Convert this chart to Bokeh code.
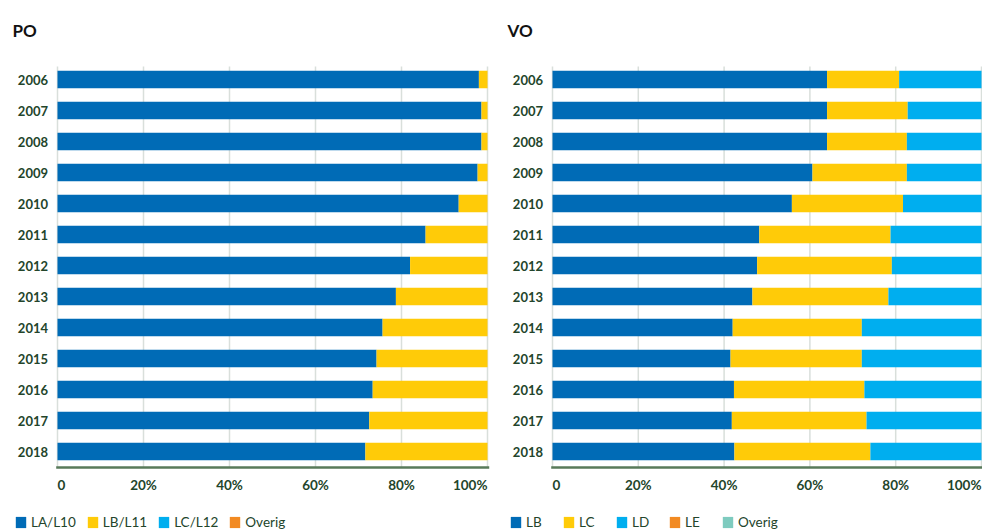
from bokeh.plotting import figure
from bokeh.layouts import row
from bokeh.models import ColumnDataSource, Legend, LegendItem, Range1d
from bokeh.core.properties import value
from bokeh.embed import file_html
from bokeh.resources import INLINE

years = ["2006", "2007", "2008", "2009", "2010", "2011", "2012",
         "2013", "2014", "2015", "2016", "2017", "2018"]

x_ticks = [0, 20, 40, 60, 80, 100]
x_tick_labels = ["0", "20%", "40%", "60%", "80%", "100%"]

# PO (primair onderwijs)
po_names = ["LA/L10", "LB/L11", "LC/L12", "Overig"]
po_la = [98.0, 98.6, 98.6, 97.7, 93.3, 85.6, 82.0, 78.7, 75.6, 74.2, 73.3, 72.5, 71.6]
po_lb = [2.0, 1.4, 1.4, 2.3, 6.7, 14.4, 18.0, 21.3, 24.4, 25.8, 26.7, 27.5, 28.4]
po_lc = [0, 0, 0, 0, 0, 0, 0, 0, 0, 0, 0, 0, 0]
po_overig = [0, 0, 0, 0, 0, 0, 0, 0, 0, 0, 0, 0, 0]

# VO (voortgezet onderwijs)
vo_names = ["LB", "LC", "LD", "LE", "Overig"]
vo_lb = [64.0, 64.0, 64.0, 60.6, 55.8, 48.2, 47.7, 46.6, 42.0, 41.5, 42.3, 41.8, 42.4]
vo_lc = [16.8, 18.8, 18.6, 22.0, 25.9, 30.6, 31.4, 31.7, 30.1, 30.6, 30.4, 31.4, 31.7]
vo_ld = [19.2, 17.2, 17.4, 17.4, 18.3, 21.2, 20.9, 21.7, 27.9, 27.9, 27.3, 26.8, 25.9]
vo_le = [0, 0, 0, 0, 0, 0, 0, 0, 0, 0, 0, 0, 0]
vo_overig = [0, 0, 0, 0, 0, 0, 0, 0, 0, 0, 0, 0, 0]

DARK_BLUE = "#006bb6"
YELLOW = "#ffcb08"
LIGHT_BLUE = "#00aeef"
ORANGE = "#f28a22"
TEAL = "#7ecbbf"
po_colors = [DARK_BLUE, YELLOW, LIGHT_BLUE, ORANGE]
vo_colors = [DARK_BLUE, YELLOW, LIGHT_BLUE, ORANGE, TEAL]

TEXT_GREEN = "#23452b"
AXIS_GREEN = "#587a5a"
GRID = "#d9dfdb"
FONT = "Lato"

HEIGHT = 531
ROW_PX = 31.0          # pixels per year row
FIRST_ROW_PX = 79.0    # centre of first bar from the top


def make_panel(title, names, series, colors, width, left_px, plot_px, spacing):
    ppu = plot_px / 100.0  # pixels per percent
    x_start = -left_px / ppu
    x_end = (width - left_px) / ppu
    y_top = -FIRST_ROW_PX / ROW_PX
    y_bottom = (HEIGHT - FIRST_ROW_PX) / ROW_PX

    ypos = list(range(len(years)))
    keys = ["s%d" % i for i in range(len(names))]
    data = {"y": ypos, "year": years}
    for k, s in zip(keys, series):
        data[k] = s
    src = ColumnDataSource(data)

    p = figure(output_backend="svg", toolbar_location=None,
               width=width, height=HEIGHT, min_border=0,
               x_axis_location=None, y_axis_location=None,
               x_range=Range1d(x_start, x_end),
               y_range=Range1d(y_bottom, y_top))
    p.outline_line_color = None
    p.grid.visible = False
    p.background_fill_color = "white"
    p.border_fill_color = "white"

    top = -0.42
    bottom = len(years) - 1 + 0.52

    # vertical grid lines
    p.segment(x0=x_ticks, x1=x_ticks, y0=[top] * len(x_ticks), y1=[bottom] * len(x_ticks),
              line_color=GRID, line_width=1.5)

    rends = p.hbar_stack(keys, y="y", height=0.56, color=colors,
                         line_color=None, source=src)

    # bottom axis line
    p.segment(x0=[x_ticks[0] - 0.3], x1=[x_ticks[-1] + 0.4], y0=[bottom], y1=[bottom],
              line_color=AXIS_GREEN, line_width=2.5)

    # year labels
    p.text(x=-9.5 / ppu, y="y", text="year", source=src, text_align="right",
           text_baseline="middle", text_font=value(FONT), text_font_style="bold",
           text_font_size="13px", text_color=TEXT_GREEN)

    # x tick labels (first left aligned, last right aligned)
    ty = bottom + 17 / ROW_PX
    common = dict(text_baseline="middle", text_font=value(FONT), text_font_style="bold",
                  text_font_size="13.5px", text_color=TEXT_GREEN)
    p.text(x=x_ticks[:1], y=[ty], text=x_tick_labels[:1], text_align="left", **common)
    p.text(x=x_ticks[1:-1], y=[ty] * (len(x_ticks) - 2), text=x_tick_labels[1:-1],
           text_align="center", **common)
    p.text(x=x_ticks[-1:], y=[ty], text=x_tick_labels[-1:], text_align="right", **common)

    # panel title
    p.text(x=[(12 - left_px) / ppu], y=[(29.5 - FIRST_ROW_PX) / ROW_PX], text=[title],
           text_align="left", text_baseline="middle", text_font=value(FONT),
           text_font_style="bold", text_font_size="17px", text_color="#111111")

    legend = Legend(items=[LegendItem(label=n, renderers=[r]) for n, r in zip(names, rends)],
                    orientation="horizontal", location=(14, 1),
                    padding=0, margin=0, spacing=spacing,
                    glyph_width=13, glyph_height=14, label_standoff=4,
                    border_line_color=None, background_fill_alpha=0,
                    label_text_font=FONT, label_text_font_size="13.5px",
                    label_text_color=TEXT_GREEN)
    p.add_layout(legend)
    return p


p1 = make_panel("PO", po_names, [po_la, po_lb, po_lc, po_overig], po_colors,
                495, 57, 430, 10)
p2 = make_panel("VO", vo_names, [vo_lb, vo_lc, vo_ld, vo_le, vo_overig], vo_colors,
                487, 57, 429, 16)

layout = row(p1, p2, spacing=0)
open("out.html", "w").write(file_html(layout, INLINE))
